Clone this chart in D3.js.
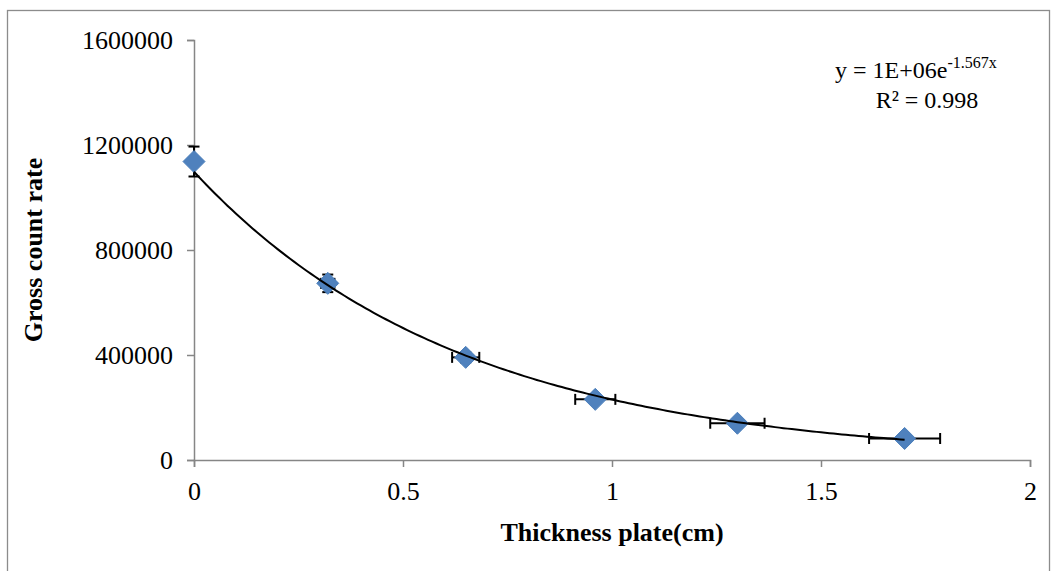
<!DOCTYPE html>
<html lang="en">
	<head>
		<meta charset="utf-8">
		<title>Gross count rate vs thickness</title>
		<script src="https://d3js.org/d3.v7.min.js"></script>
		<style>
			body { margin: 0; background: #fff; }
			text { font-family: "Liberation Serif", "Times New Roman", serif; fill: #000; }
		</style>
	</head>
	<body>
		<script>

			// Data
			var thickness = [0, 0.32, 0.65, 0.96, 1.3, 1.7];
			var countRate = [1137000, 673000, 391000, 231000, 140000, 82000];
			var xError = [0, 0.016, 0.0325, 0.048, 0.065, 0.085];
			var yError = [57000, 33500, 19500, 11500, 7000, 4000];
			var xTicks = [0, 0.5, 1, 1.5, 2];
			var yTicks = [0, 400000, 800000, 1200000, 1600000];
			var equationText = "y = 1E+06e";
			var exponentText = "-1.567x";
			var r2Text = "R² = 0.998";

			var w = 1057, h = 571;
			var margin = {left: 194, right: 27, top: 40, bottom: 111};

			var svg = d3.select("body").append("svg")
				.attr("width", w)
				.attr("height", h);

			// outer chart border
			svg.append("rect")
				.attr("x", 7.5).attr("y", 10.5)
				.attr("width", 1042).attr("height", 575)
				.attr("fill", "none")
				.attr("stroke", "#8c8c8c")
				.attr("stroke-width", 1.3);

			var x = d3.scaleLinear().domain([0, 2]).range([margin.left, w - margin.right]);
			var y = d3.scaleLinear().domain([0, 1600000]).range([h - margin.bottom, margin.top]);

			// axes
			var xAxis = svg.append("g")
				.attr("transform", "translate(0," + y(0) + ")")
				.call(d3.axisBottom(x).tickValues(xTicks).tickSize(7).tickPadding(15).tickFormat(d3.format("")));
			var yAxis = svg.append("g")
				.attr("transform", "translate(" + x(0) + ",0)")
				.call(d3.axisLeft(y).tickValues(yTicks).tickSize(7).tickPadding(14).tickFormat(d3.format("d")));

			[xAxis, yAxis].forEach(function(g) {
				g.select(".domain").attr("stroke", "#868686").attr("stroke-width", 1.5);
				g.selectAll(".tick line").attr("stroke", "#868686").attr("stroke-width", 1.5);
				g.selectAll(".tick text")
					.style("font-family", "'Liberation Serif', serif")
					.style("font-size", "26px")
					.attr("fill", "#000");
			});

			// axis titles
			svg.append("text")
				.attr("x", 612).attr("y", 541)
				.attr("text-anchor", "middle")
				.style("font-size", "26px")
				.style("font-weight", "bold")
				.text("Thickness plate(cm)");

			svg.append("text")
				.attr("transform", "translate(42,250) rotate(-90)")
				.attr("text-anchor", "middle")
				.style("font-size", "26px")
				.style("font-weight", "bold")
				.text("Gross count rate");

			var points = thickness.map(function(t, i) {
				return {x: t, y: countRate[i], ex: xError[i], ey: yError[i]};
			});

			// error bars (x and y)
			var eb = svg.append("g").attr("stroke", "#000").attr("stroke-width", 2).attr("fill", "none");
			points.forEach(function(d) {
				var cx = x(d.x), cy = y(d.y), cap = 5.5;
				var yt = y(d.y + d.ey), yb = y(d.y - d.ey);
				eb.append("line").attr("x1", cx).attr("x2", cx).attr("y1", yt).attr("y2", yb);
				eb.append("line").attr("x1", cx - cap).attr("x2", cx + cap).attr("y1", yt).attr("y2", yt);
				eb.append("line").attr("x1", cx - cap).attr("x2", cx + cap).attr("y1", yb).attr("y2", yb);
				if (d.ex > 0) {
					var xl = x(d.x - d.ex), xr = x(d.x + d.ex);
					eb.append("line").attr("x1", xl).attr("x2", xr).attr("y1", cy).attr("y2", cy);
					eb.append("line").attr("x1", xl).attr("x2", xl).attr("y1", cy - cap).attr("y2", cy + cap);
					eb.append("line").attr("x1", xr).attr("x2", xr).attr("y1", cy - cap).attr("y2", cy + cap);
				}
			});

			// markers
			svg.selectAll("path.marker")
				.data(points)
				.enter().append("path")
				.attr("class", "marker")
				.attr("d", "M0,-11L11,0L0,11L-11,0Z")
				.attr("transform", function(d) { return "translate(" + x(d.x) + "," + y(d.y) + ")"; })
				.attr("fill", "#4F81BD")
				.attr("stroke", "#4A7EBB")
				.attr("stroke-width", 1);

			// exponential trendline, least squares fit on ln(y)
			var lnY = countRate.map(Math.log);
			var mx = d3.mean(thickness), my = d3.mean(lnY);
			var sxy = d3.sum(thickness, function(t, i) { return (t - mx) * (lnY[i] - my); });
			var sxx = d3.sum(thickness, function(t) { return (t - mx) * (t - mx); });
			var k = sxy / sxx;
			var A = Math.exp(my - k * mx);
			var xs = d3.range(0, d3.max(thickness) + 1e-9, 0.01);

			svg.append("path")
				.datum(xs)
				.attr("fill", "none")
				.attr("stroke", "#000")
				.attr("stroke-width", 2)
				.attr("d", d3.line()
					.x(function(t) { return x(t); })
					.y(function(t) { return y(A * Math.exp(k * t)); }));

			// equation label
			var eq = svg.append("text")
				.attr("x", 835).attr("y", 78)
				.style("font-size", "24px");
			eq.append("tspan").text(equationText);
			eq.append("tspan").attr("dy", -10).style("font-size", "16px").text(exponentText);

			svg.append("text")
				.attr("x", 927).attr("y", 108)
				.attr("text-anchor", "middle")
				.style("font-size", "24px")
				.text(r2Text);

		</script>
	</body>
</html>
